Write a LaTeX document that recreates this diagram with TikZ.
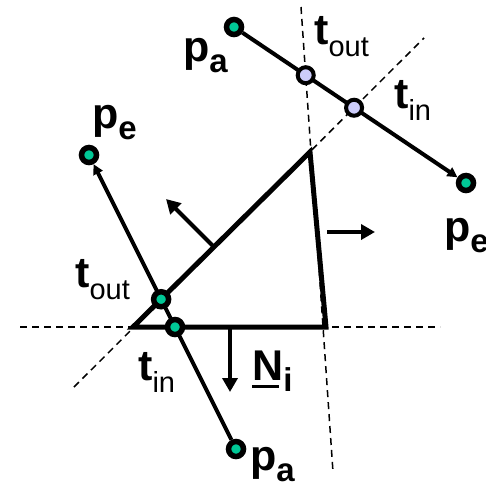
\documentclass[tikz,border=0pt]{standalone}
\usepackage{fontspec}
\setmainfont{Liberation Sans}
\usetikzlibrary{arrows.meta}

\definecolor{dotgreen}{RGB}{0,200,150}
\definecolor{dotlilac}{RGB}{204,204,250}
% point name with subscript
\newcommand{\bsub}[2]{\textbf{#1}\raisebox{-11pt}{\fontsize{33}{33}\selectfont\bfseries #2}}
\newcommand{\rsub}[2]{\textbf{#1}\raisebox{-12pt}{\fontsize{29}{29}\selectfont #2}}

\begin{document}
\begin{tikzpicture}[x=1pt, y=-1pt,
  every node/.style={font=\fontsize{43}{43}\selectfont, inner sep=0pt, anchor=base west},
  dot/.style={circle, draw, line width=5.5pt, minimum size=15pt, fill=dotgreen, anchor=center},
  hit/.style={dot, line width=4pt, minimum size=16pt, fill=dotlilac},
  guide/.style={line width=1.5pt, dash pattern=on 7pt off 5pt},
  ray/.style={line width=4pt, -{Triangle[length=10pt,width=10pt]}},
  normal/.style={line width=4pt, -{Triangle[length=14pt,width=15pt]}}]
\useasboundingbox (0,0) rectangle (486,482);

% triangle corners and guide lines
\coordinate (A) at (133,327);
\coordinate (B) at (310,152);
\coordinate (C) at (326,327);
\coordinate (h1) at (20,327);
\coordinate (h2) at (440,327);
\coordinate (d1) at (74,387);
\coordinate (d2) at (424,38);
\coordinate (v1) at (301,7);
\coordinate (v2) at (333,472);
\draw[guide] (h1) -- (h2);
\draw[guide] (d1) -- (d2);
\draw[guide] (v1) -- (v2);
\draw[line width=5pt, line join=miter] (A) -- (B) -- (C) -- cycle;

% rays
\coordinate (a1) at (234,27);
\coordinate (e1) at (466,183);
\coordinate (a2) at (236,449);
\coordinate (e2) at (89,155);
\node[dot] (paT) at (a1) {};
\node[dot] (peR) at (e1) {};
\node[dot] (paB) at (a2) {};
\node[dot] (peL) at (e2) {};
\draw[ray] (paT) -- (peR);
\draw[ray] (paB) -- (peL);
\node[hit] (toutT) at (intersection of a1--e1 and v1--v2) {};
\node[hit] (tinT) at (intersection of a1--e1 and d1--d2) {};
\node[dot] (toutL) at (intersection of a2--e2 and A--B) {};
\node[dot] (tinL) at (intersection of a2--e2 and A--C) {};

% edge normals
\coordinate (n1) at (213,246);
\coordinate (m1) at (166,199);
\coordinate (n2) at (327,232);
\coordinate (m2) at (375,232);
\coordinate (n3) at (230,328);
\coordinate (m3) at (230,392);
\draw[normal] (n1) -- (m1);
\draw[normal] (n2) -- (m2);
\draw[normal] (n3) -- (m3);

% labels
\node (lpaT) at (183,61) {\bsub{p}{a}};
\node (ltoutT) at (314,44) {\rsub{t}{out}};
\node (ltinT) at (394,108) {\rsub{t}{in}};
\node (lpeL) at (92,128) {\bsub{p}{e}};
\node (lpeR) at (444,241) {\bsub{p}{e}};
\node (ltoutL) at (75,287) {\rsub{t}{out}};
\node (ltinB) at (138,380) {\rsub{t}{in}};
\node (lN) at (252,380) {\bsub{\rlap{\rule[-8pt]{27pt}{3pt}}N}{i}};
\node (lpaB) at (250,470) {\bsub{p}{a}};
\end{tikzpicture}
\end{document}
